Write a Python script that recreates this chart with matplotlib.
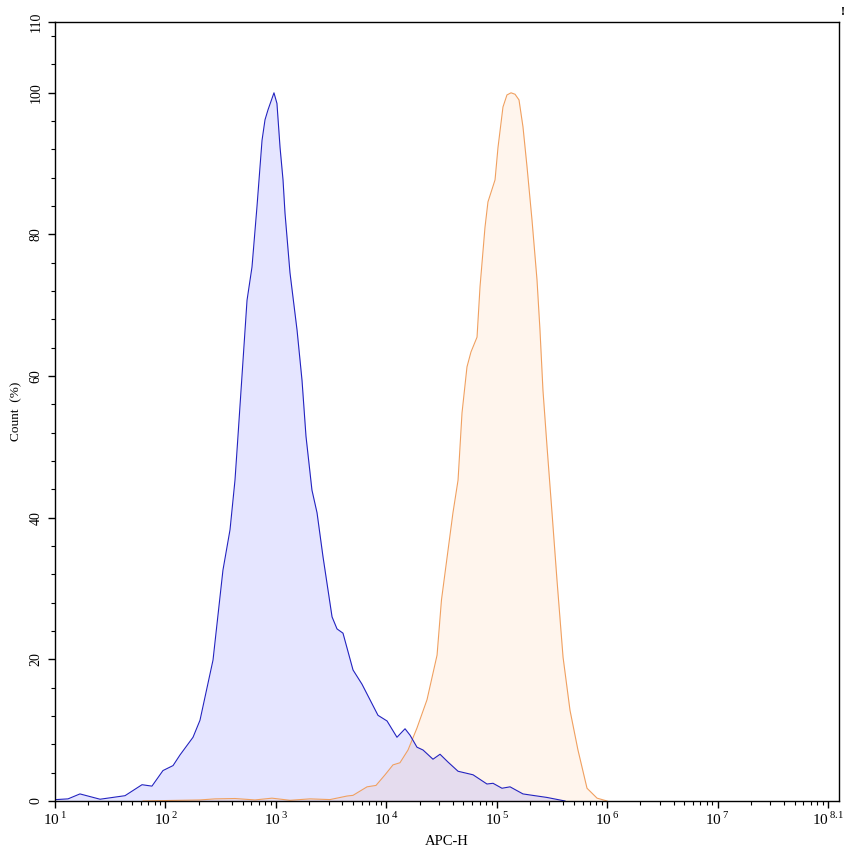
import numpy as np
import matplotlib
matplotlib.use("Agg")
import matplotlib.pyplot as plt
from matplotlib import ticker

plt.rcParams['font.family'] = ['Liberation Serif', 'DejaVu Serif']
plt.rcParams['mathtext.fontset'] = 'custom'
plt.rcParams['mathtext.rm'] = 'Liberation Serif'

# log10(APC-H) and Count (%)
blue_log = [1.009, 1.118, 1.226, 1.408, 1.634, 1.788, 1.878, 1.978, 2.069, 2.132,
            2.250, 2.313, 2.431, 2.521, 2.585, 2.630, 2.657, 2.739, 2.784, 2.829,
            2.875, 2.902, 2.929, 2.983, 3.010, 3.038, 3.065, 3.083, 3.128, 3.192,
            3.237, 3.273, 3.327, 3.373, 3.427, 3.509, 3.554, 3.608, 3.699, 3.780,
            3.925, 4.007, 4.097, 4.170, 4.215, 4.278, 4.333, 4.423, 4.487, 4.559,
            4.650, 4.786, 4.912, 4.967, 5.048, 5.121, 5.238, 5.302, 5.456, 5.619]
blue_cnt = [0.2, 0.3, 1.0, 0.25, 0.75, 2.3, 2.1, 4.3, 5.0, 6.5,
            9.0, 11.4, 19.9, 32.6, 38.3, 45.3, 51.5, 70.7, 75.4, 83.9,
            93.3, 96.2, 97.6, 100.0, 98.5, 92.3, 87.7, 83.0, 74.6, 66.5,
            59.4, 51.5, 43.9, 40.7, 34.5, 26.0, 24.3, 23.7, 18.5, 16.5,
            12.1, 11.3, 9.0, 10.2, 9.3, 7.6, 7.2, 5.9, 6.6, 5.5,
            4.2, 3.7, 2.4, 2.5, 1.8, 2.0, 1.0, 0.85, 0.5, 0.0]

orange_log = [1.797, 1.951, 2.313, 2.449, 2.630, 2.811, 2.965, 3.128, 3.309, 3.490,
              3.644, 3.699, 3.826, 3.907, 3.989, 4.061, 4.124, 4.197, 4.278, 4.369,
              4.460, 4.500, 4.604, 4.650, 4.686, 4.731, 4.767, 4.822, 4.849, 4.894,
              4.921, 4.985, 5.012, 5.057, 5.093, 5.130, 5.166, 5.202, 5.238, 5.275,
              5.320, 5.365, 5.392, 5.419, 5.456, 5.501, 5.546, 5.601, 5.664, 5.736,
              5.818, 5.909, 6.000]
orange_cnt = [0.0, 0.05, 0.15, 0.3, 0.35, 0.15, 0.4, 0.1, 0.3, 0.2,
              0.7, 0.8, 2.0, 2.2, 3.7, 5.1, 5.4, 7.2, 10.3, 14.3,
              20.6, 28.4, 40.7, 45.3, 54.8, 61.3, 63.4, 65.5, 72.6, 81.0,
              84.6, 87.7, 92.3, 98.0, 99.7, 100.0, 99.8, 99.0, 95.2, 89.5,
              82.0, 73.6, 66.5, 58.0, 50.0, 40.7, 31.2, 20.3, 12.8, 7.2,
              1.8, 0.4, 0.0]

x_decades = [1, 2, 3, 4, 5, 6, 7, 8]
x_labels = ['1', '2', '3', '4', '5', '6', '7', '8.1']
y_major = [0, 20, 40, 60, 80, 100, 110]

fig = plt.figure(figsize=(8.53, 8.56), dpi=100)
ax = fig.add_axes([55 / 853, 1 - 801 / 856, 784 / 853, 779 / 856])

bx = 10 ** np.array(blue_log)
ox = 10 ** np.array(orange_log)

ax.fill_between(ox, orange_cnt, 0, color=(1.0, 0.65, 0.31), alpha=0.1, lw=0)
ax.plot(ox, orange_cnt, color='#f0a060', lw=0.8)
ax.fill_between(bx, blue_cnt, 0, color=(0, 0, 1.0), alpha=0.1, lw=0)
ax.plot(bx, blue_cnt, color='#2323c0', lw=0.8)

ax.set_xscale('log')
ax.set_xlim(10 ** 1, 10 ** 8.1)
ax.set_ylim(0, 110)

ax.xaxis.set_major_locator(ticker.FixedLocator([10.0 ** d for d in x_decades]))
ax.xaxis.set_major_formatter(ticker.FixedFormatter(['10$^{\\,%s}$' % s for s in x_labels]))
ax.xaxis.set_minor_locator(ticker.LogLocator(base=10, subs=np.arange(2, 10), numticks=20))
ax.xaxis.set_minor_formatter(ticker.NullFormatter())

ax.set_yticks(y_major)
ax.set_yticklabels([str(v) for v in y_major], rotation=90, va='center')
ax.yaxis.set_minor_locator(ticker.MultipleLocator(4))

ax.tick_params(axis='x', which='major', length=5, width=1, labelsize=11, pad=2)
ax.tick_params(axis='x', which='minor', length=3, width=0.8)
ax.tick_params(axis='y', which='major', length=5, width=1, labelsize=10, pad=4)
ax.tick_params(axis='y', which='minor', length=3, width=0.8)

for s in ax.spines.values():
    s.set_linewidth(1)

ax.set_xlabel('APC-H', fontsize=10.5, labelpad=5)
ax.set_ylabel('Count  (%)', fontsize=9.5, labelpad=5)

fig.text(843 / 853, 1 - 12 / 856, '!', fontsize=9, fontweight='bold', ha='center', va='center')

fig.savefig('out.png', dpi=100)
